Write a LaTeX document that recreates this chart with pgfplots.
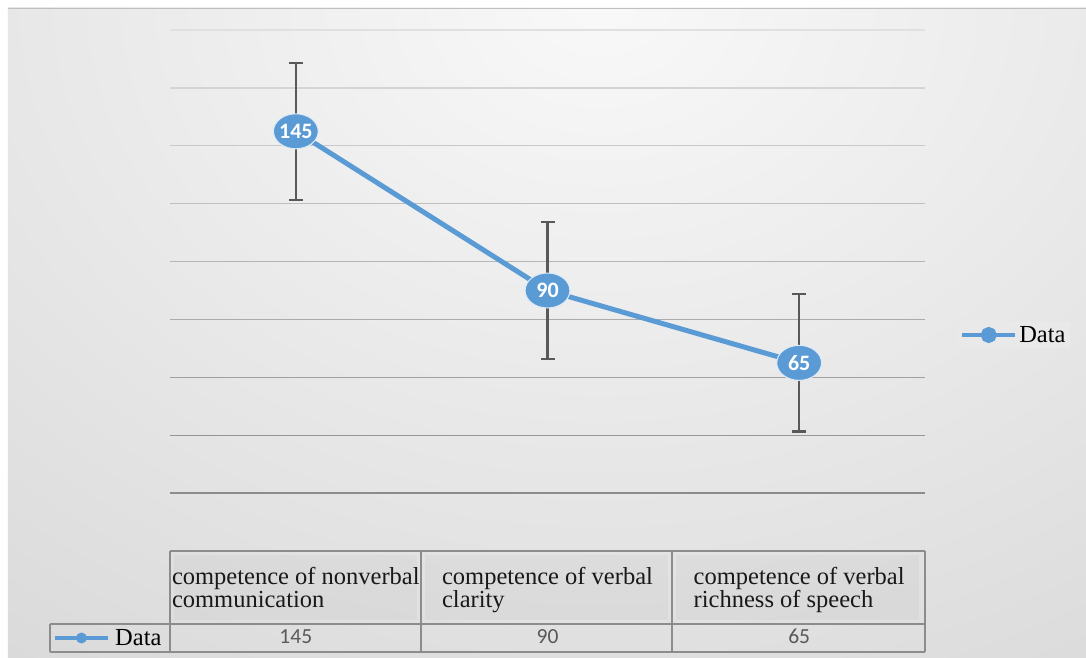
\documentclass[border=0pt]{standalone}
\usepackage{pgfplots}
\pgfplotsset{compat=1.18}
\usepackage{fontspec}
\setmainfont{Liberation Serif}
\newfontfamily\carlito{Carlito}

\definecolor{lineblue}{HTML}{5B9BD5}
\definecolor{errgray}{HTML}{595959}
\definecolor{tabline}{HTML}{8C8C8C}
\definecolor{legfill}{HTML}{E9E9E9}

\pgfdeclareradialshading{bg}{\pgfpoint{0bp}{0bp}}{%
  rgb(0bp)=(0.975,0.975,0.975);
  rgb(25bp)=(0.75,0.75,0.75);
  rgb(50bp)=(0.75,0.75,0.75)}

\newcommand\serifbig{\fontsize{24.5}{23}\selectfont}

\begin{document}
\begin{tikzpicture}
  % page: 1086 x 657, origin at the lower left corner of the plot area
  \fill[white] (-170pt,551pt) rectangle (916pt,-106pt);
  \path[use as bounding box] (-170pt,551pt) rectangle (916pt,-106pt);
  \begin{scope}
    \clip (-162pt,543pt) rectangle (916pt,-106pt);
    \shade[shading=bg] (430pt,551pt) ellipse [x radius=1950pt, y radius=1500pt];
  \end{scope}
  \draw[black!25, line width=0.8pt] (-162pt,543pt) -- (916pt,543pt);

  % header cells of the data table
  \foreach \x in {0,251,502} {
    \fill[black!20, opacity=0.3] (\x pt+4pt,-4pt) rectangle (\x pt+247pt,-69pt);
  }

  \begin{axis}[
      at={(0,0)}, anchor=south west,
      scale only axis,
      width=755pt, height=521pt,
      xmin=-0.5, xmax=2.5, ymin=0, ymax=180,
      axis line style={draw=none},
      tick style={draw=none},
      ytick=\empty,
      xtick={0,1,2},
      xticklabels={{competence of nonverbal\\communication},
                   {competence of verbal\\clarity},
                   {competence of verbal\\richness of speech}},
      xticklabel style={font=\serifbig, align=left, anchor=north,
                        inner sep=0pt, yshift=-16pt, text=black!90},
      /pgf/number format/assume math mode=true,
      clip=false,
      legend style={at={(1.0438,0.4146)}, anchor=west, fill=legfill,
                    draw=none, font=\serifbig, inner sep=2pt},
      legend image code/.code={
        \draw[lineblue, line width=4pt] (0pt,0pt) -- (53pt,0pt);
        \fill[lineblue] (26.5pt,0pt) circle (5.5pt);
      },
    ]
    \foreach \v/\p in {20/45,40/41,60/37,80/33,100/29,120/25,140/21,160/17,180/12} {
      \edef\tmp{\noexpand\draw[line width=1.3pt, black!\p]
        (axis cs:-0.5,\v) -- (axis cs:2.5,\v);}
      \tmp
    }
    \addplot[color=lineblue, line width=5pt,
      mark=*, mark size=17.5pt,
      mark options={xscale=1.28, fill=lineblue, draw=white!80!lineblue, line width=1pt},
      nodes near coords,
      every node near coord/.append style={anchor=center, text=white,
        font=\carlito\bfseries\fontsize{22}{22}\selectfont},
      error bars/.cd, y dir=both, y fixed=23.7,
      error mark=|,
      error bar style={line width=2.2pt, color=errgray},
      error mark options={line width=2.2pt, color=errgray, mark size=7pt},
    ] coordinates {(0,145) (1,90) (2,65)};
    \addlegendentry{Data}
    % values row of the data table
    \addplot[draw=none, mark=none, forget plot,
      point meta=explicit symbolic,
      nodes near coords,
      every node near coord/.append style={anchor=base, text=black!65,
        font=\carlito\fontsize{21.5}{21.5}\selectfont},
    ] coordinates {(0,-31.9)[145] (1,-31.9)[90] (2,-31.9)[65]};
  \end{axis}

  % table grid
  \begin{scope}[tabline, line width=1.2pt]
    \draw (0pt,0pt) -- (755pt,0pt);
    \draw (-120pt,-73pt) -- (755pt,-73pt);
    \draw (-120pt,-101pt) -- (755pt,-101pt);
    \draw (-120pt,-73pt) -- (-120pt,-101pt);
    \foreach \x in {0,251,502,755} \draw (\x pt,0pt) -- (\x pt,-101pt);
  \end{scope}
  % legend key of the table row
  \draw[lineblue, line width=4pt] (-115pt,-87pt) -- (-62pt,-87pt);
  \fill[lineblue] (-88.5pt,-87pt) circle (5.5pt);
  \node[anchor=base west, inner sep=0pt, font=\serifbig] at (-55pt,-94pt) {Data};
\end{tikzpicture}
\end{document}
